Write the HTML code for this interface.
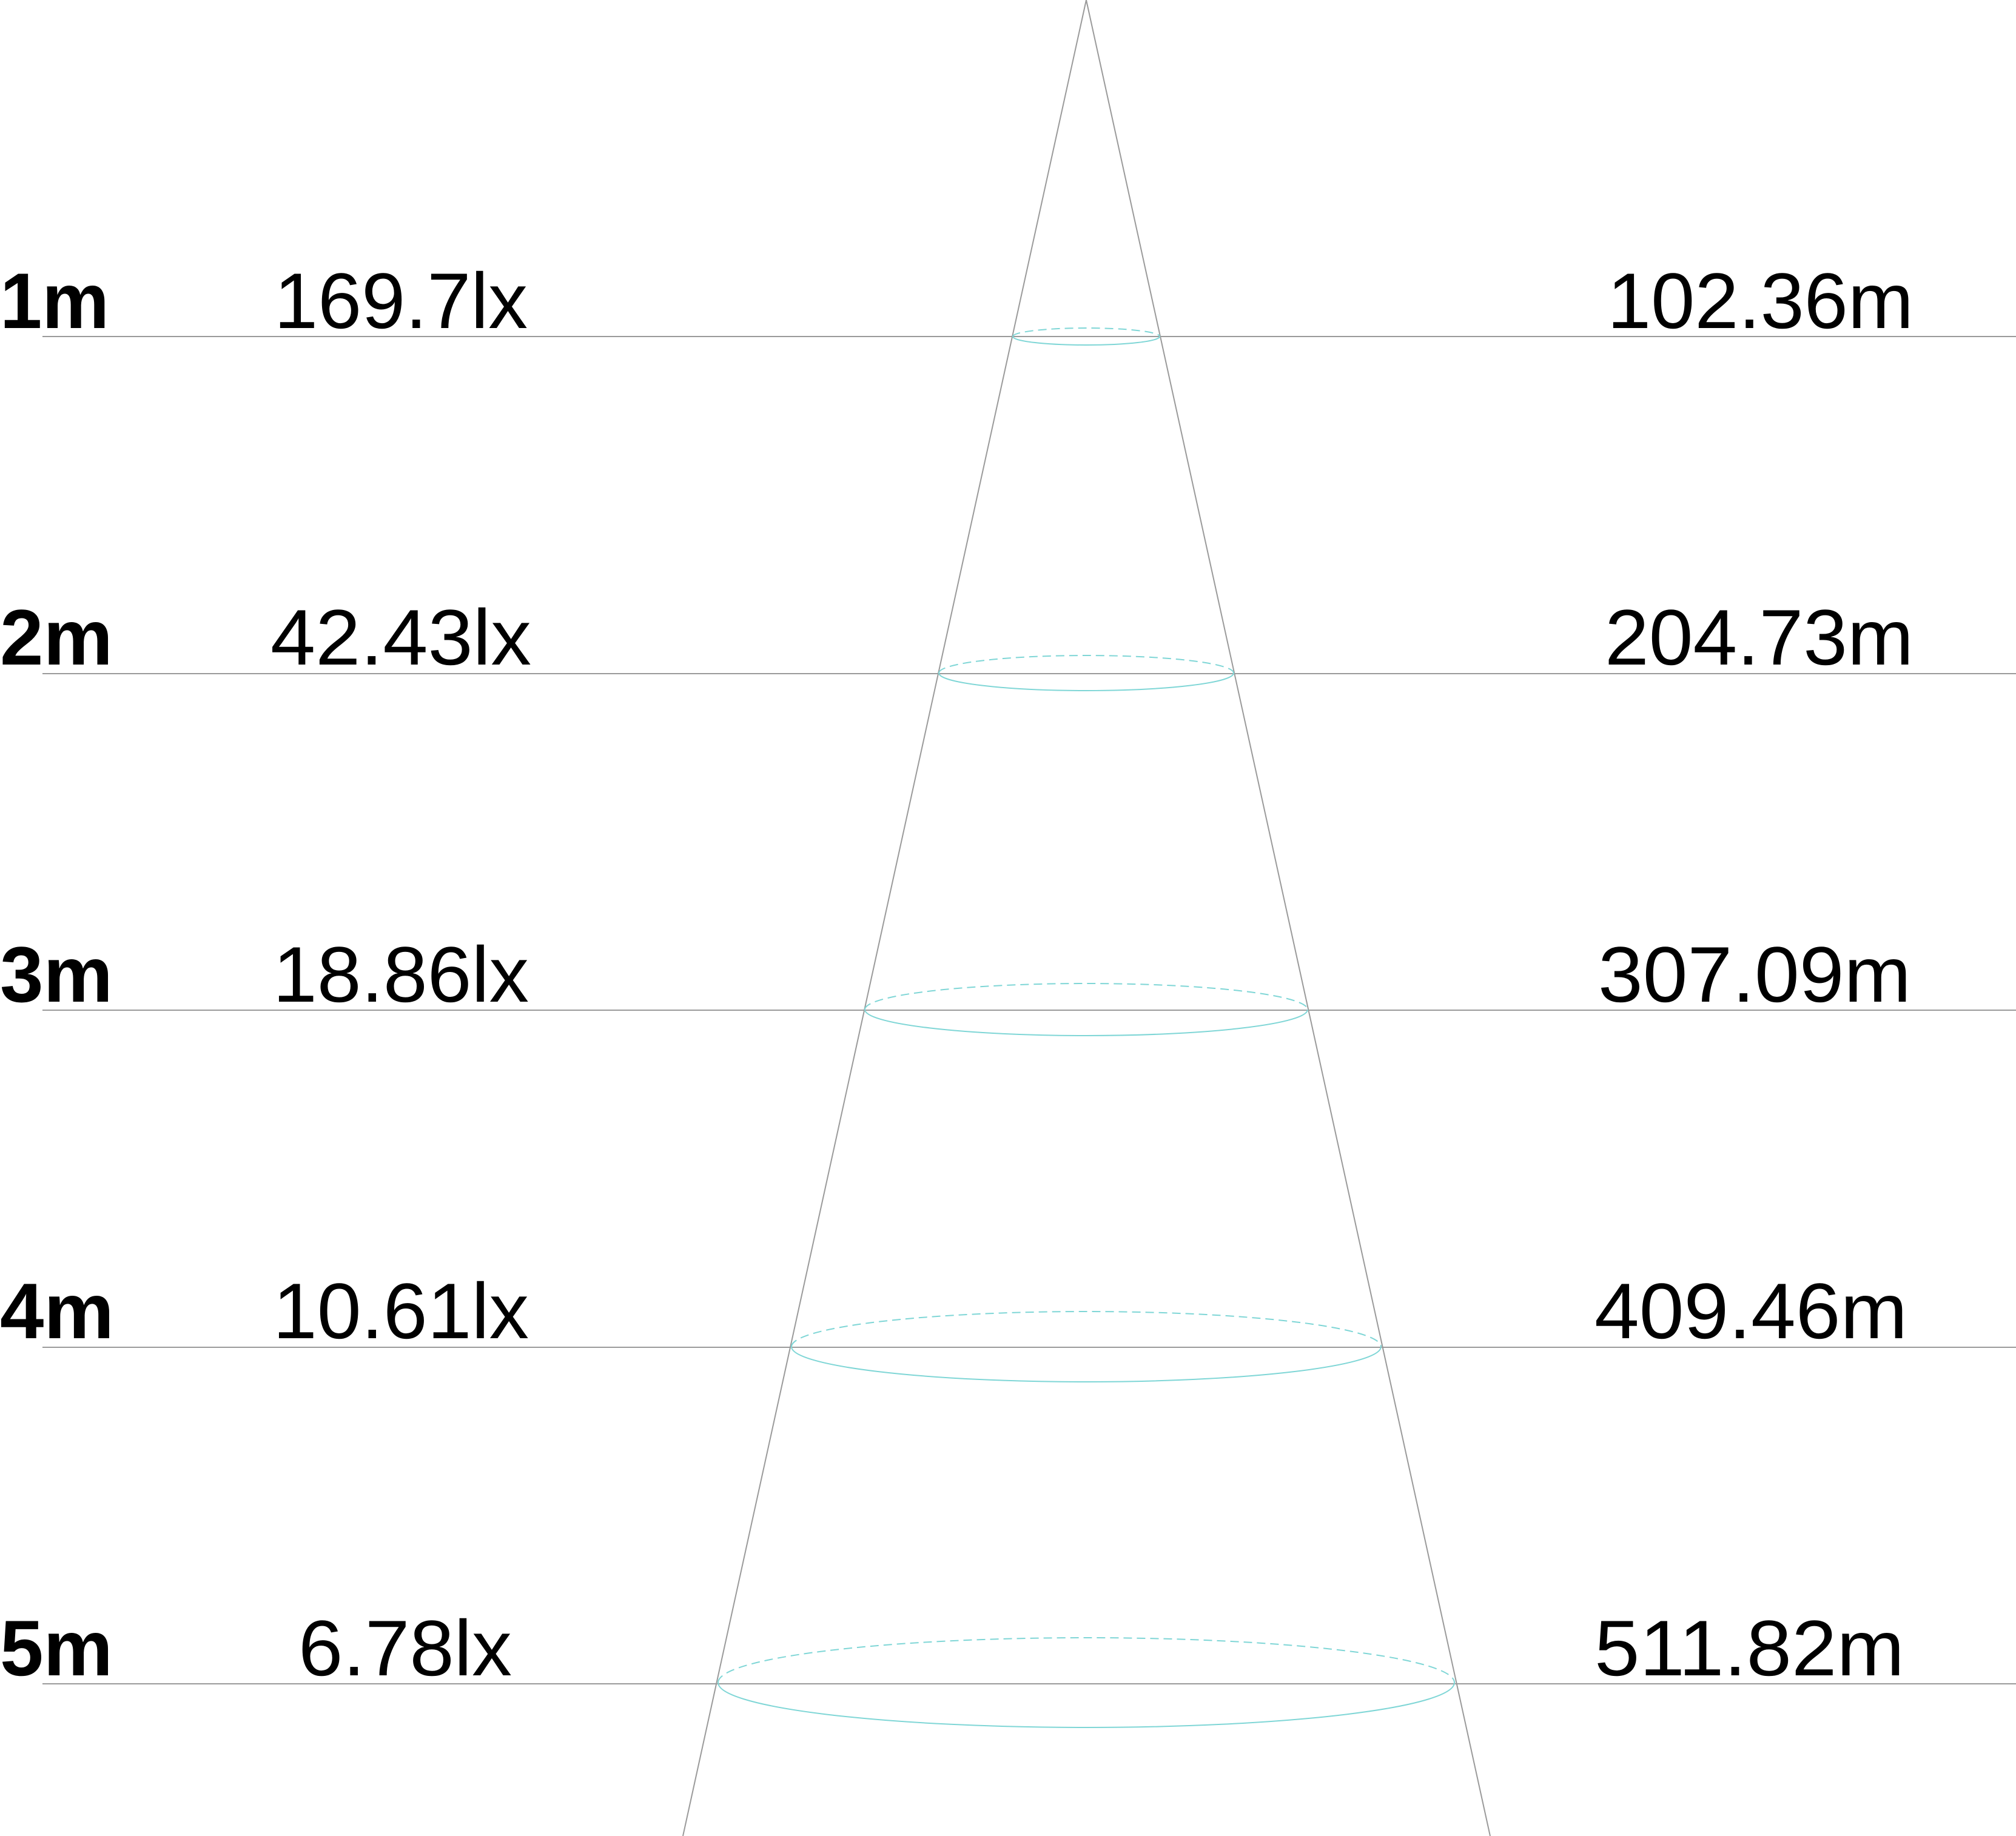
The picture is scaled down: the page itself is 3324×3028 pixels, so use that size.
<!DOCTYPE html>
<html><head><meta charset="utf-8"><style>html,body{margin:0;padding:0;background:#fff}svg{display:block}</style></head>
<body>
<svg width="3324" height="3028" viewBox="0 0 3324 3028" xmlns="http://www.w3.org/2000/svg">
<g stroke="#9a9a9a" stroke-width="2" fill="none">
<line x1="70" y1="555" x2="3324" y2="555"/>
<line x1="70" y1="1111" x2="3324" y2="1111"/>
<line x1="70" y1="1666" x2="3324" y2="1666"/>
<line x1="70" y1="2222" x2="3324" y2="2222"/>
<line x1="70" y1="2777" x2="3324" y2="2777"/>
<line x1="1791" y1="0" x2="1126" y2="3028"/>
<line x1="1791" y1="0" x2="2457" y2="3028"/>
</g>
<g stroke="#7fd6d6" stroke-width="2" fill="none">
<path d="M1670 555 A121 14 0 0 0 1912 555"/>
<path d="M1670 555 A121 14 0 0 1 1912 555" stroke-dasharray="14 8"/>
<path d="M1548 1110 A243 29 0 0 0 2034 1110"/>
<path d="M1548 1110 A243 29 0 0 1 2034 1110" stroke-dasharray="14 8"/>
<path d="M1426 1665 A365 43 0 0 0 2156 1665"/>
<path d="M1426 1665 A365 43 0 0 1 2156 1665" stroke-dasharray="14 8"/>
<path d="M1305 2221 A486 58 0 0 0 2277 2221"/>
<path d="M1305 2221 A486 58 0 0 1 2277 2221" stroke-dasharray="14 8"/>
<path d="M1184 2775 A607 74 0 0 0 2398 2775"/>
<path d="M1184 2775 A607 74 0 0 1 2398 2775" stroke-dasharray="14 8"/>
</g>
<g font-family="Liberation Sans, sans-serif" font-size="130" fill="#000">
<g font-weight="bold">
<text x="0" y="541" textLength="180" lengthAdjust="spacingAndGlyphs">1m</text>
<text x="0" y="1096" textLength="186" lengthAdjust="spacingAndGlyphs">2m</text>
<text x="0" y="1652" textLength="186" lengthAdjust="spacingAndGlyphs">3m</text>
<text x="0" y="2207" textLength="188" lengthAdjust="spacingAndGlyphs">4m</text>
<text x="0" y="2763" textLength="186" lengthAdjust="spacingAndGlyphs">5m</text>
</g>
<text x="452" y="541" textLength="418" lengthAdjust="spacingAndGlyphs">169.7lx</text>
<text x="446" y="1096" textLength="430" lengthAdjust="spacingAndGlyphs">42.43lx</text>
<text x="450" y="1652" textLength="422" lengthAdjust="spacingAndGlyphs">18.86lx</text>
<text x="450" y="2207" textLength="422" lengthAdjust="spacingAndGlyphs">10.61lx</text>
<text x="492" y="2763" textLength="352" lengthAdjust="spacingAndGlyphs">6.78lx</text>
<text x="2650" y="541" textLength="505" lengthAdjust="spacingAndGlyphs">102.36m</text>
<text x="2646" y="1096" textLength="509" lengthAdjust="spacingAndGlyphs">204.73m</text>
<text x="2635" y="1652" textLength="516" lengthAdjust="spacingAndGlyphs">307.09m</text>
<text x="2629" y="2207" textLength="516" lengthAdjust="spacingAndGlyphs">409.46m</text>
<text x="2629" y="2763" textLength="511" lengthAdjust="spacingAndGlyphs">511.82m</text>
</g>
</svg>
</body></html>
